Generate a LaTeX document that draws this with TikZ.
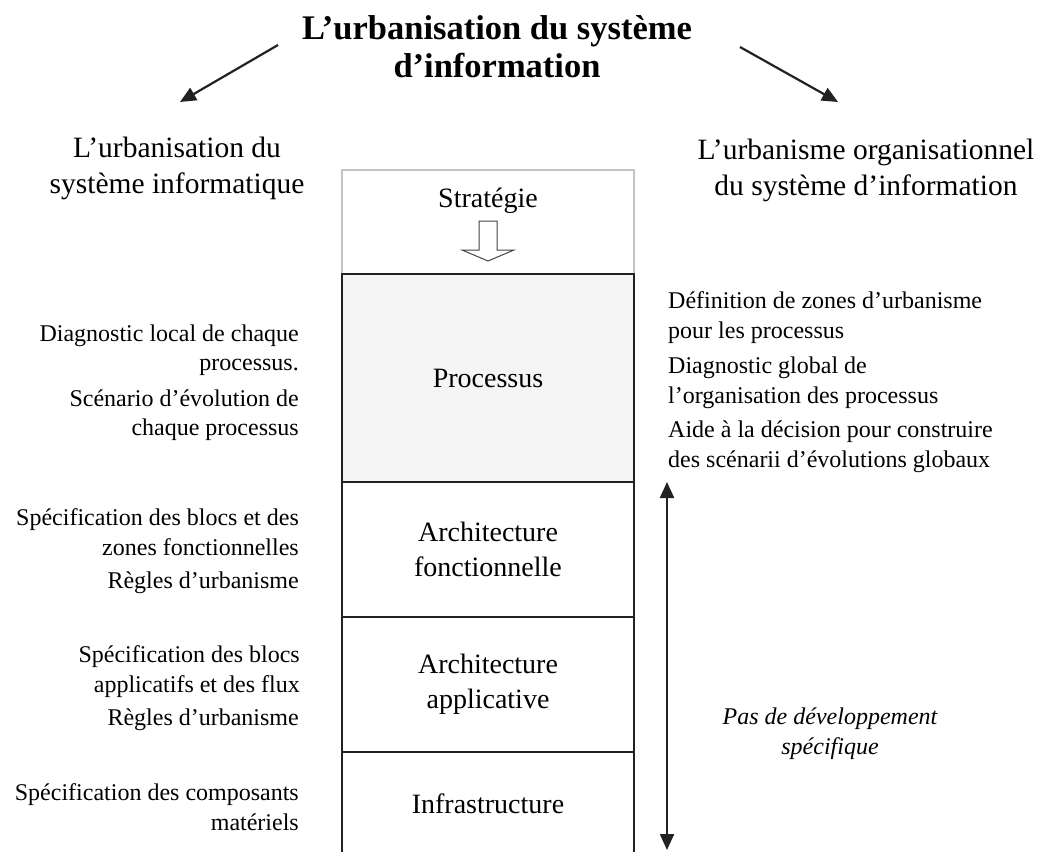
\documentclass[tikz,border=0pt]{standalone}
\usepackage{fontspec}
\setmainfont{Liberation Serif}
\usetikzlibrary{arrows.meta}
\definecolor{boxline}{HTML}{222222}
\definecolor{stratline}{HTML}{C4C4C4}
\definecolor{procfill}{HTML}{F5F5F5}
\tikzset{
  layer/.style={draw=boxline, line width=2pt, minimum width=292pt, inner sep=0pt,
    align=center, font=\fontsize{28}{35}\selectfont},
  lnote/.style={anchor=north east, inner sep=0pt, align=right, font=\fontsize{24}{29.5}\selectfont},
  rnote/.style={anchor=north west, inner sep=0pt, align=left, font=\fontsize{24}{30}\selectfont},
  heading/.style={anchor=north, inner sep=0pt, align=center, font=\fontsize{29.5}{36}\selectfont},
  bigtip/.tip={Triangle[length=16pt, width=14pt]},
  link/.style={-bigtip, line width=2.2pt, draw=boxline},
}
\begin{document}
\begin{tikzpicture}[x=1pt, y=-1pt]
      \clip (0,0) rectangle (1043,851);
      \fill[white] (0,0) rectangle (1043,851);
      \node[anchor=north, inner sep=0pt, align=center, font=\fontsize{34.5}{38}\selectfont\bfseries]
        (title) at (497,15) {L’urbanisation du système\\d’information};
      \node[heading] (hleft) at (177,137) {L’urbanisation du\\système informatique};
      \node[heading] (hright) at (866,139) {L’urbanisme organisationnel\\du système d’information};
      \coordinate (ltail) at (278,45);
      \coordinate (ltip) at (180,102);
      \coordinate (rtail) at (740,47);
      \coordinate (rtip) at (838,102);
      \draw[link] (ltail) -- (ltip);
      \draw[link] (rtail) -- (rtip);
      % the stack
      \node[layer, draw=stratline, line width=1.5pt, minimum height=104pt, anchor=north]
        (strat) at (488,169) {};
      \node[anchor=base, inner sep=0pt, font=\fontsize{28}{35}\selectfont]
        (stratlabel) at (488,207) {Stratégie};
      \draw[draw=boxline!85, line width=1pt]
        (479,221) -- (497,221) -- (497,250) -- (514,250) -- (488,261)
        -- (462,250) -- (479,250) -- cycle;
      \node[layer, fill=procfill, minimum height=208pt, anchor=north] (proc) at (488,273) {Processus};
      \node[layer, minimum height=135pt, anchor=north] (fonc) at (488,481) {Architecture\\fonctionnelle};
      \node[layer, minimum height=135pt, anchor=north] (appl) at (488,616) {Architecture\\applicative};
      \node[layer, minimum height=104pt, anchor=north] (infra) at (488,751) {Infrastructure};
      % left notes
      \node[lnote] (diag) at (299,324.5) {Diagnostic local de chaque\\processus.};
      \node[lnote] (scen) at (299,389.5) {Scénario d’évolution de\\chaque processus};
      \node[lnote] (specf) at (299,508.5) {Spécification des blocs et des\\zones fonctionnelles};
      \node[lnote] (reglf) at (299,571.5) {Règles d’urbanisme};
      \node[lnote] (speca) at (300,645.5) {Spécification des blocs\\applicatifs et des flux};
      \node[lnote] (regla) at (299,708.5) {Règles d’urbanisme};
      \node[lnote] (specm) at (299,783.5) {Spécification des composants\\matériels};
      % right notes
      \node[rnote] (defz) at (668,291.5) {Définition de zones d’urbanisme\\pour les processus};
      \node[rnote] (diagg) at (668,356.5) {Diagnostic global de\\l’organisation des processus};
      \node[rnote] (aide) at (668,420.5) {Aide à la décision pour construire\\des scénarii d’évolutions globaux};
      \coordinate (dtop) at (667,482);
      \coordinate (dbot) at (667,850);
      \draw[bigtip-bigtip, line width=2.2pt, draw=boxline] (dtop) -- (dbot);
      \node[anchor=north, inner sep=0pt, align=center, font=\fontsize{24}{30}\selectfont\itshape]
        (nodev) at (830,708) {Pas de développement\\spécifique};
    \end{tikzpicture}
\end{document}
